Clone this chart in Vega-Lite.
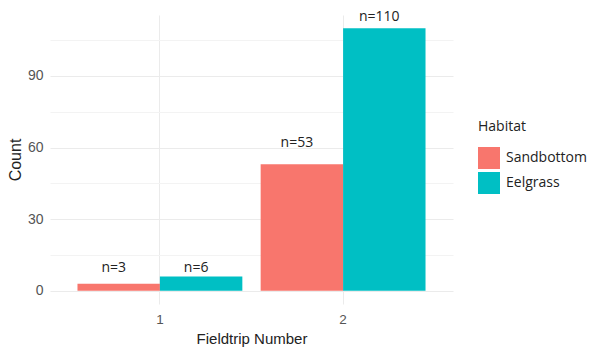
{
  "$schema": "https://vega.github.io/schema/vega-lite/v6.json",
  "width": 403,
  "height": 289,
  "autosize": "none",
  "padding": {"left": 50, "top": 15, "right": 136, "bottom": 51},
  "background": "white",
  "config": {"view": {"stroke": null}},
  "data": {
    "values": [
      {"Fieldtrip": "1", "Habitat": "Sandbottom", "Count": 3, "label": "n=3", "label_y": 9.6},
      {"Fieldtrip": "1", "Habitat": "Eelgrass", "Count": 6, "label": "n=6", "label_y": 9.6},
      {"Fieldtrip": "2", "Habitat": "Sandbottom", "Count": 53, "label": "n=53", "label_y": 62},
      {"Fieldtrip": "2", "Habitat": "Eelgrass", "Count": 110, "label": "n=110", "label_y": 114.5}
    ]
  },
  "encoding": {
    "x": {
      "field": "Fieldtrip",
      "type": "nominal",
      "scale": {"paddingInner": 0.1, "paddingOuter": 0.15},
      "axis": {
        "title": "Fieldtrip Number",
        "labelAngle": 0,
        "labelFont": "Liberation Sans",
        "labelFontSize": 13.5,
        "labelColor": "#555555",
        "labelPadding": 8,
        "titleFont": "Liberation Sans",
        "titleFontSize": 15,
        "titleFontWeight": "normal",
        "titleColor": "#222222",
        "titlePadding": 6,
        "ticks": false,
        "domain": false,
        "grid": true,
        "gridColor": "#ebebeb",
        "gridWidth": 1,
        "bandPosition": 0.5
      }
    },
    "xOffset": {
      "field": "Habitat",
      "type": "nominal",
      "sort": ["Sandbottom", "Eelgrass"],
      "scale": {"paddingInner": 0, "paddingOuter": 0}
    }
  },
  "layer": [
    {
      "mark": {"type": "bar"},
      "encoding": {
        "y": {
          "field": "Count",
          "type": "quantitative",
          "scale": {"domain": [-5.5, 115.5], "nice": false, "zero": false},
          "axis": {
            "title": "Count",
            "values": [0, 15, 30, 45, 60, 75, 90, 105],
            "labelExpr": "datum.value % 30 === 0 ? datum.label : ''",
            "labelFont": "Liberation Sans",
            "labelFontSize": 14,
            "labelColor": "#555555",
            "labelPadding": 7,
            "titleFont": "Liberation Sans",
            "titleFontSize": 16,
            "titleFontWeight": "normal",
            "titleColor": "#222222",
            "titlePadding": 4,
            "ticks": false,
            "domain": false,
            "grid": true,
            "gridColor": {"condition": {"test": "datum.value % 30 === 0", "value": "#ebebeb"}, "value": "#f3f3f3"},
            "gridWidth": 1
          }
        },
        "y2": {"datum": 0},
        "color": {
          "field": "Habitat",
          "type": "nominal",
          "scale": {"domain": ["Sandbottom", "Eelgrass"], "range": ["#F8766D", "#00BFC4"]},
          "legend": {
            "title": "Habitat",
            "orient": "none",
            "legendX": 428,
            "legendY": 105,
            "titleFont": "Open Sans",
            "titleFontSize": 14,
            "titleFontWeight": "normal",
            "titleColor": "#222222",
            "titlePadding": 13,
            "labelFont": "Open Sans",
            "labelFontSize": 14,
            "labelColor": "#222222",
            "labelOffset": 6,
            "symbolType": "square",
            "symbolSize": 484,
            "symbolStrokeWidth": 0,
            "symbolOpacity": 1,
            "rowPadding": 3
          }
        }
      }
    },
    {
      "mark": {"type": "text", "font": "Open Sans", "fontSize": 14, "color": "#222222", "dx": -5},
      "encoding": {
        "y": {"field": "label_y", "type": "quantitative"},
        "text": {"field": "label"}
      }
    }
  ]
}
